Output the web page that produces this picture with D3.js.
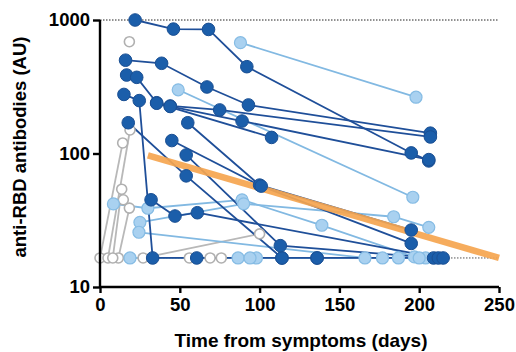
<!DOCTYPE html>
<html>
<head>
<meta charset="utf-8">
<script src="https://cdn.jsdelivr.net/npm/d3@7"></script>
<style>
  body { margin: 0; background: #fff; }
  text { font-family: "Liberation Sans", Arial, sans-serif; font-weight: bold; }
</style>
</head>
<body>
<div class="chart"></div>
<script>
// values: [days, AU]
var LOD = 16.5;

var darkSubjects = [
  [[22,1000],[46,855],[68,850],[92,447],[195,101],[206,88]],
  [[16,500],[38.6,474],[67,315],[93,231],[207,142]],
  [[16.7,387],[23,372],[35.5,240],[44,227],[75,212],[207,133]],
  [[15,277],[24.6,249],[33,16.5],[60.6,16.5],[114,16.5],[136,16.5]],
  [[44,225],[89,175],[206,90]],
  [[35.5,238],[107.5,132]],
  [[17.7,170],[54,68],[114,16.5]],
  [[55,170],[100,58],[195,26.7]],
  [[45,125],[101,57],[195,21.2]],
  [[54,97.5],[113,20.4],[209,16.5]],
  [[32,45],[47,34],[61,36],[212,16.5]],
  [[136,16.5],[215,16.5]]
];

var lightSubjects = [
  [[88,676],[198,264]],
  [[49,300],[196,47]],
  [[8.4,41.9],[30,38.9],[89,45],[139,29],[197,16.8]],
  [[25,30.5],[90,42],[184,33.6],[206,28]],
  [[24.4,25.7],[166,16.5],[204,16.5]],
  [[18.8,16.5],[86.5,16.5],[98,16.5],[187,16.5]],
  [[94,16.5],[177,16.5],[200,16.5]]
];

var graySubjects = [
  [[0,16.5],[14.2,120]],
  [[5,16.5],[18.8,150]],
  [[11.5,16.5],[18.4,39]],
  [[8,16.5],[13.6,54],[14.6,45]],
  [[18.4,688]],
  [[27,16.5],[100,25]],
  [[56,16.5],[69,16.5],[76,16.5]]
];

var trend = [[30,97],[250,16.5]];

var xTicks = [0, 50, 100, 150, 200, 250];
var yTicks = [10, 100, 1000];

var width = 516, height = 352;

var svg = d3.select(".chart").append("svg")
  .attr("width", width)
  .attr("height", height);

var x = d3.scaleLinear().domain([0, 250]).range([100, 499]);
var y = d3.scaleLog().domain([10, 1000]).range([287, 20]);

var line = d3.line()
  .x(function(d){ return x(d[0]); })
  .y(function(d){ return y(d[1]); });

// dotted reference lines
svg.append("line")
  .attr("x1", x(0)).attr("x2", x(250))
  .attr("y1", y(1000)).attr("y2", y(1000))
  .attr("stroke", "#222").attr("stroke-width", 1)
  .attr("stroke-dasharray", "1.5,1.5");
svg.append("line")
  .attr("x1", x(0)).attr("x2", x(250))
  .attr("y1", y(LOD)).attr("y2", y(LOD))
  .attr("stroke", "#555").attr("stroke-width", 1)
  .attr("stroke-dasharray", "1.5,1.5");

function drawLines(data, color) {
  svg.append("g").selectAll("path")
    .data(data)
    .enter()
    .append("path")
      .attr("d", line)
      .attr("fill", "none")
      .attr("stroke", color)
      .attr("stroke-width", 1.8);
}

drawLines(graySubjects, "#b8b8b8");
drawLines(lightSubjects, "#82b9e2");
drawLines(darkSubjects, "#1f4f99");

// trend line
svg.append("path")
  .datum(trend)
  .attr("d", line)
  .attr("fill", "none")
  .attr("stroke", "#f5a54f")
  .attr("stroke-width", 6.5)
  .attr("opacity", 0.92);

function drawPoints(data, fill, stroke, r, sw) {
  var pts = [];
  data.forEach(function(s){ s.forEach(function(p){ pts.push(p); }); });
  svg.append("g").selectAll("circle")
    .data(pts)
    .enter()
    .append("circle")
      .attr("cx", function(d){ return x(d[0]); })
      .attr("cy", function(d){ return y(d[1]); })
      .attr("r", r)
      .attr("fill", fill)
      .attr("stroke", stroke)
      .attr("stroke-width", sw);
}

drawPoints(graySubjects, "#fff", "#b0b0b0", 5, 1.6);
drawPoints(lightSubjects, "#a9d1f0", "#86bce4", 6, 1.2);
drawPoints(darkSubjects, "#1b5eaa", "#1a4f93", 6.3, 1);

// axes
var xAxis = d3.axisBottom(x).tickValues(xTicks).tickSize(6).tickPadding(5).tickFormat(d3.format("d"));
var yAxis = d3.axisLeft(y).tickValues(yTicks).tickSize(7).tickPadding(3).tickFormat(d3.format("d"));

var gx = svg.append("g").attr("transform", "translate(0," + y(10) + ")").call(xAxis);
var gy = svg.append("g").attr("transform", "translate(" + x(0) + ",0)").call(yAxis);

[gx, gy].forEach(function(g){
  g.select(".domain").attr("stroke", "#000").attr("stroke-width", 2.4);
  g.selectAll(".tick line").attr("stroke", "#000").attr("stroke-width", 2.4);
  g.selectAll(".tick text").attr("fill", "#000").style("font-size", "18.5px")
    .style("font-family", "'Liberation Sans', Arial, sans-serif").style("font-weight", "bold");
});
gy.select(".domain").attr("d", "M0," + y(1000) + "V" + y(10));
gx.select(".domain").attr("d", "M" + x(0) + ",0H" + x(250));

svg.append("text")
  .attr("x", 301).attr("y", 347)
  .attr("text-anchor", "middle")
  .style("font-size", "19px")
  .text("Time from symptoms (days)");

svg.append("text")
  .attr("transform", "translate(26,147) rotate(-90)")
  .attr("text-anchor", "middle")
  .style("font-size", "18.5px")
  .text("anti-RBD antibodies (AU)");
</script>
</body>
</html>
